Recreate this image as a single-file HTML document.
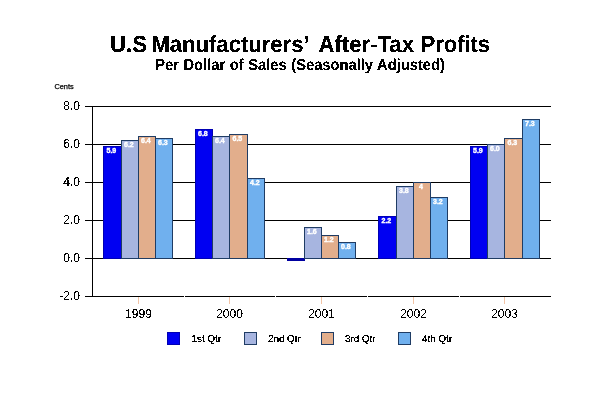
<!DOCTYPE html>
<html lang="en"><head><meta charset="utf-8"><title>U.S Manufacturers' After-Tax Profits</title>
<style>
html,body{margin:0;padding:0;background:#fff;}
body{width:600px;height:400px;overflow:hidden;font-family:"Liberation Sans",Arial,sans-serif;}
svg{display:block}
text{font-family:"Liberation Sans",Arial,sans-serif;fill:#000}
.t,.st,.ax{filter:url(#al)}
.lg{filter:url(#al2)}
.t{font-weight:bold;font-size:23.2px;text-anchor:start;text-rendering:geometricPrecision}
.st{font-weight:bold;font-size:15.8px;text-anchor:middle;text-rendering:geometricPrecision;word-spacing:0.55px}
.ax{font-size:12px}
.yl{text-anchor:end}
.xl{text-anchor:middle}
.lg{font-size:10px;text-rendering:geometricPrecision;letter-spacing:-0.1px}
.vl{text-anchor:middle;font-size:7px;font-weight:bold;fill:#fff;stroke:#fff;stroke-width:0.4px}
.u{font-size:7.4px;stroke:#000;stroke-width:0.25px}
.g{stroke:#000;stroke-width:1;shape-rendering:crispEdges}
.b{shape-rendering:crispEdges;stroke-width:1}
</style></head><body>
<svg width="600" height="400" viewBox="0 0 600 400">
<defs><filter id="al" x="-5%" y="-20%" width="110%" height="140%" color-interpolation-filters="sRGB"><feComponentTransfer><feFuncA type="discrete" tableValues="0 0 0 0 1 1 1 1 1 1"/></feComponentTransfer></filter><filter id="al2" x="-5%" y="-20%" width="110%" height="140%" color-interpolation-filters="sRGB"><feComponentTransfer><feFuncA type="discrete" tableValues="0 0 0 1 1 1 1 1 1 1"/></feComponentTransfer></filter></defs>
<rect width="600" height="400" fill="#fff"/>
<text class="t" y="52"><tspan x="109.9" textLength="37.2" lengthAdjust="spacingAndGlyphs">U.S</tspan> <tspan x="151.4" textLength="157.0" lengthAdjust="spacingAndGlyphs">Manufacturers’</tspan> <tspan x="318.4" textLength="95.6" lengthAdjust="spacingAndGlyphs">After-Tax</tspan> <tspan x="420.8" textLength="69.2" lengthAdjust="spacingAndGlyphs">Profits</tspan></text>
<text class="st" transform="translate(300.0,70) scale(0.931,1)">Per Dollar of Sales (Seasonally Adjusted)</text>
<text class="u" x="54.4" y="89">Cents</text>

<line class="g" x1="85" x2="551" y1="106.5" y2="106.5"/>
<text class="ax yl" x="79.9" y="110.1">8.0</text>
<line class="g" x1="85" x2="551" y1="144.5" y2="144.5"/>
<text class="ax yl" x="79.9" y="148.1">6.0</text>
<line class="g" x1="85" x2="551" y1="182.5" y2="182.5"/>
<text class="ax yl" x="79.9" y="186.1">4.0</text>
<line class="g" x1="85" x2="551" y1="220.5" y2="220.5"/>
<text class="ax yl" x="79.9" y="224.1">2.0</text>
<line class="g" x1="85" x2="551" y1="258.5" y2="258.5"/>
<text class="ax yl" x="79.9" y="262.1">0.0</text>
<line class="g" x1="85" x2="551" y1="296.5" y2="296.5"/>
<text class="ax yl" x="79.9" y="300.1">-2.0</text>
<line class="g" x1="92.5" x2="92.5" y1="106" y2="297"/>
<line x1="138.5" x2="138.5" y1="297" y2="304" stroke="#f2c4a6" stroke-width="1" shape-rendering="crispEdges"/>
<text class="ax xl" x="138.5" y="318">1999</text>
<line x1="229.5" x2="229.5" y1="297" y2="304" stroke="#f2c4a6" stroke-width="1" shape-rendering="crispEdges"/>
<text class="ax xl" x="229.5" y="318">2000</text>
<line x1="184.5" x2="184.5" y1="296" y2="300" stroke="#fff" stroke-width="1" shape-rendering="crispEdges"/>
<line x1="321.5" x2="321.5" y1="297" y2="304" stroke="#f2c4a6" stroke-width="1" shape-rendering="crispEdges"/>
<text class="ax xl" x="321.5" y="318">2001</text>
<line x1="275.5" x2="275.5" y1="296" y2="300" stroke="#fff" stroke-width="1" shape-rendering="crispEdges"/>
<line x1="413.5" x2="413.5" y1="297" y2="304" stroke="#f2c4a6" stroke-width="1" shape-rendering="crispEdges"/>
<text class="ax xl" x="413.5" y="318">2002</text>
<line x1="367.5" x2="367.5" y1="296" y2="300" stroke="#fff" stroke-width="1" shape-rendering="crispEdges"/>
<line x1="504.5" x2="504.5" y1="297" y2="304" stroke="#f2c4a6" stroke-width="1" shape-rendering="crispEdges"/>
<text class="ax xl" x="504.5" y="318">2003</text>
<line x1="459.5" x2="459.5" y1="296" y2="300" stroke="#fff" stroke-width="1" shape-rendering="crispEdges"/>
<rect class="b" x="103.5" y="146.5" width="18" height="112" fill="#0000f2" stroke="#0000b4"/>
<text class="vl" x="111.4" y="153.3">5.9</text>
<rect class="b" x="121.5" y="140.5" width="17" height="118" fill="#a7b5e0" stroke="#1f3c64"/>
<text class="vl" x="128.9" y="147.3">6.2</text>
<rect class="b" x="138.5" y="136.5" width="17" height="122" fill="#e2ae8c" stroke="#1f3c64"/>
<text class="vl" x="145.9" y="143.3">6.4</text>
<rect class="b" x="155.5" y="138.5" width="17" height="120" fill="#70b0ee" stroke="#1f3c64"/>
<text class="vl" x="162.9" y="145.3">6.3</text>
<rect class="b" x="195.5" y="129.5" width="17" height="129" fill="#0000f2" stroke="#0000b4"/>
<text class="vl" x="202.9" y="136.3">6.8</text>
<rect class="b" x="212.5" y="136.5" width="17" height="122" fill="#a7b5e0" stroke="#1f3c64"/>
<text class="vl" x="219.9" y="143.3">6.4</text>
<rect class="b" x="229.5" y="134.5" width="18" height="124" fill="#e2ae8c" stroke="#1f3c64"/>
<text class="vl" x="237.4" y="141.3">6.5</text>
<rect class="b" x="247.5" y="178.5" width="17" height="80" fill="#70b0ee" stroke="#1f3c64"/>
<text class="vl" x="254.9" y="185.3">4.2</text>
<rect class="b" x="287.5" y="258.5" width="17" height="2" fill="#0000a4" stroke="#0000a0"/>
<rect class="b" x="304.5" y="227.5" width="17" height="31" fill="#a7b5e0" stroke="#1f3c64"/>
<text class="vl" x="311.9" y="234.3">1.6</text>
<rect class="b" x="321.5" y="235.5" width="17" height="23" fill="#e2ae8c" stroke="#1f3c64"/>
<text class="vl" x="328.9" y="242.3">1.2</text>
<rect class="b" x="338.5" y="242.5" width="17" height="16" fill="#70b0ee" stroke="#1f3c64"/>
<text class="vl" x="345.9" y="249.3">0.8</text>
<rect class="b" x="378.5" y="216.5" width="18" height="42" fill="#0000f2" stroke="#0000b4"/>
<text class="vl" x="386.4" y="223.3">2.2</text>
<rect class="b" x="396.5" y="186.5" width="17" height="72" fill="#a7b5e0" stroke="#1f3c64"/>
<text class="vl" x="403.9" y="193.3">3.8</text>
<rect class="b" x="413.5" y="182.5" width="17" height="76" fill="#e2ae8c" stroke="#1f3c64"/>
<text class="vl" x="420.9" y="189.3">4</text>
<rect class="b" x="430.5" y="197.5" width="17" height="61" fill="#70b0ee" stroke="#1f3c64"/>
<text class="vl" x="437.9" y="204.3">3.2</text>
<rect class="b" x="470.5" y="146.5" width="17" height="112" fill="#0000f2" stroke="#0000b4"/>
<text class="vl" x="477.9" y="153.3">5.9</text>
<rect class="b" x="487.5" y="144.5" width="17" height="114" fill="#a7b5e0" stroke="#1f3c64"/>
<text class="vl" x="494.9" y="151.3">6.0</text>
<rect class="b" x="504.5" y="138.5" width="18" height="120" fill="#e2ae8c" stroke="#1f3c64"/>
<text class="vl" x="512.4" y="145.3">6.3</text>
<rect class="b" x="522.5" y="119.5" width="17" height="139" fill="#70b0ee" stroke="#1f3c64"/>
<text class="vl" x="529.9" y="126.3">7.3</text>
<rect class="b" x="167.5" y="332.5" width="12" height="12" fill="#0000f2" stroke="#0000b4"/>
<text class="lg" x="191.6" y="341.8">1st Qtr</text>
<rect class="b" x="244.5" y="332.5" width="12" height="12" fill="#a7b5e0" stroke="#1f3c64"/>
<text class="lg" x="268.0" y="341.8">2nd Qtr</text>
<rect class="b" x="321.5" y="332.5" width="12" height="12" fill="#e2ae8c" stroke="#1f3c64"/>
<text class="lg" x="345.0" y="341.8">3rd Qtr</text>
<rect class="b" x="398.5" y="332.5" width="12" height="12" fill="#70b0ee" stroke="#1f3c64"/>
<text class="lg" x="422.0" y="341.8">4th Qtr</text>
</svg>
</body></html>
